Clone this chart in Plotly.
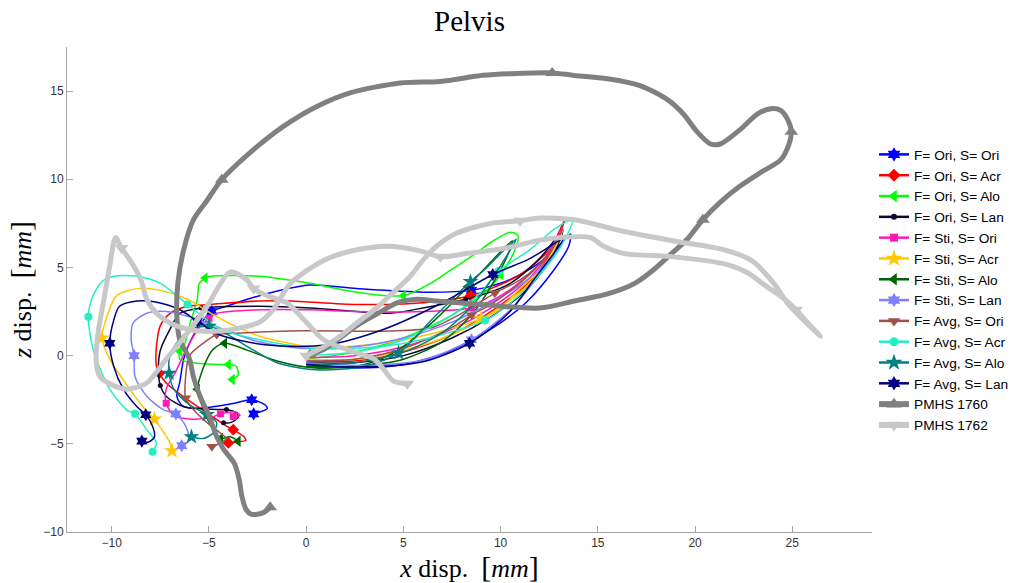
import plotly.graph_objects as go

# Axis limits (mm)
X_RANGE = [-12.3, 29.1]
Z_RANGE = [-10, 17.5]
X_TICKS = [-10, -5, 0, 5, 10, 15, 20, 25]
Z_TICKS = [-10, -5, 0, 5, 10, 15]

# ---- F= Ori, S= Ori ----
ori_ori_x = [0.0, 2.5, 5.0, 7.5, 9.5, 11.3, 12.7, 13.5, 13.6, 12.8, 11.5, 10.0, 8.5, 6.0, 2.6, 0.2,
             -2.4, -4.1, -4.85, -5.5, -6.0, -6.3, -6.5, -6.65, -6.4, -5.8, -4.8, -3.7, -2.8, -2.1, -2.0, -2.4, -2.7]
ori_ori_z = [-0.5, -0.7, -0.5, 0.3, 1.5, 3.0, 4.8, 6.2, 6.9, 6.0, 4.9, 4.1, 3.7, 3.6, 3.8, 4.0,
             3.4, 2.8, 2.5, 1.7, 0.7, -0.2, -1.5, -2.3, -2.8, -3.0, -2.9, -2.7, -2.5, -2.8, -3.0, -3.2, -3.3]
ori_ori_marks = [12, 18, 28, 32]

# ---- F= Ori, S= Acr ----
ori_acr_x = [0.0, 2.5, 5.0, 7.5, 9.5, 11.3, 12.6, 13.3, 12.5, 11.0, 9.5, 8.45, 6.0, 2.6, -0.8, -2.4,
             -4.9, -6.1, -7.0, -7.5, -7.7, -7.7, -7.55, -7.2, -6.1, -5.1, -4.1, -3.75, -3.2, -3.1, -3.6, -4.0]
ori_acr_z = [-0.3, -0.3, 0.2, 1.2, 2.5, 4.0, 5.8, 7.7, 6.0, 4.6, 3.8, 3.4, 3.0, 2.9, 3.1, 3.1,
             2.9, 2.8, 2.4, 1.7, 0.5, -0.6, -1.0, -1.55, -2.5, -3.25, -4.0, -4.2, -4.6, -4.8, -4.9, -4.95]
ori_acr_marks = [11, 22, 27, 31]

# ---- F= Ori, S= Alo ----
ori_alo_x = [0.0, 2.5, 5.0, 7.5, 9.2, 10.0, 10.7, 10.9, 10.5, 9.6, 8.6, 7.5, 6.4, 5.0, 2.6, 0.2,
             -2.4, -4.9, -5.2, -5.5, -5.6, -6.0, -6.3, -6.5, -6.5, -5.8, -4.4, -4.0, -3.6, -3.5, -3.8]
ori_alo_z = [-0.2, 0.2, 1.0, 2.3, 3.6, 4.6, 5.9, 6.8, 7.0, 6.5, 5.7, 4.9, 4.1, 3.4, 3.6, 4.1,
             4.5, 4.5, 4.4, 4.1, 3.2, 1.7, 0.5, 0.25, -0.2, -0.4, -0.5, -0.5, -0.6, -1.1, -1.35]
ori_alo_marks = [5, 13, 18, 23, 27, 30]

# ---- F= Ori, S= Lan ----
ori_lan_x = [0.0, 2.5, 5.0, 7.5, 9.5, 11.3, 12.6, 13.2, 12.0, 10.5, 9.2, 8.2, 6.0, 4.3, 2.6, 0.2,
             -2.4, -5.4, -6.5, -7.0, -7.5, -7.6, -7.5, -7.2, -6.3, -5.5, -4.6, -4.1, -3.6, -3.5, -3.9, -4.25]
ori_lan_z = [-0.4, -0.4, 0.0, 1.0, 2.2, 3.7, 5.5, 7.1, 5.5, 4.1, 3.5, 3.2, 2.7, 2.4, 2.5, 2.7,
             2.8, 2.7, 2.4, 1.5, 0.3, -0.8, -1.7, -2.3, -2.9, -3.0, -3.05, -3.06, -3.25, -3.5, -3.8, -3.8]
ori_lan_marks = [11, 17, 22, 27, 31]

# ---- F= Sti, S= Ori ----
sti_ori_x = [0.0, 2.5, 5.0, 7.5, 9.5, 11.3, 12.6, 13.2, 12.3, 10.8, 9.5, 8.5, 6.0, 2.6, 0.2, -2.4,
             -4.6, -5.0, -5.45, -6.1, -6.75, -7.2, -7.2, -6.8, -5.8, -4.9, -4.4, -3.6, -3.4, -3.75]
sti_ori_z = [-0.1, 0.0, 0.5, 1.5, 2.7, 4.2, 5.9, 7.3, 5.6, 4.0, 3.1, 2.7, 2.5, 2.5, 2.6, 2.6,
             2.4, 2.1, 1.65, 0.5, -1.0, -1.9, -2.7, -3.4, -3.6, -3.5, -3.3, -3.2, -3.4, -3.45]
sti_ori_marks = [11, 17, 22, 26, 29]

# ---- F= Sti, S= Acr ----
sti_acr_x = [0.0, 2.5, 5.0, 7.5, 9.5, 11.3, 12.6, 13.2, 12.3, 11.0, 9.9, 9.0, 7.0, 4.5, 2.0, 0.2,
             -2.4, -3.7, -4.9, -6.1, -7.5, -8.7, -9.75, -10.25, -10.5, -10.1, -9.2, -8.4, -7.8, -7.3, -7.0, -6.9]
sti_acr_z = [-0.2, -0.2, 0.3, 1.2, 2.4, 3.9, 5.7, 7.1, 5.2, 3.8, 2.6, 2.1, 1.4, 0.8, 0.5, 0.5,
             1.1, 1.7, 2.4, 3.2, 3.7, 3.8, 3.4, 2.2, 1.0, -0.2, -1.7, -2.9, -3.6, -4.4, -4.95, -5.4]
sti_acr_marks = [11, 24, 28, 31]

# ---- F= Sti, S= Alo ----
sti_alo_x = [0.0, 2.5, 5.0, 7.0, 8.5, 9.6, 10.4, 10.6, 9.4, 8.3, 6.6, 4.7, 3.0, 0.5, -1.5, -3.0,
             -4.2, -4.8, -5.1, -5.45, -5.6, -5.3, -4.9, -4.6, -4.4, -3.9, -3.5]
sti_alo_z = [-0.6, -0.6, -0.2, 0.8, 2.3, 4.1, 5.8, 6.5, 5.2, 3.9, 2.0, 0.3, -0.5, -0.7, -0.3, 0.3,
             0.7, 0.34, -0.2, -1.2, -1.9, -3.0, -4.0, -4.5, -4.7, -4.6, -4.85]
sti_alo_marks = [9, 16, 20, 24, 26]

# ---- F= Sti, S= Lan ----
sti_lan_x = [0.0, 3.0, 6.0, 8.5, 10.5, 12.0, 13.1, 13.4, 12.4, 11.0, 9.5, 7.5, 5.0, 2.5, 0.0, -2.5,
             -4.5, -6.0, -7.2, -8.2, -8.9, -9.0, -8.85, -8.8, -8.2, -7.35, -6.7, -6.3, -6.05, -6.1, -6.4]
sti_lan_z = [-0.4, -0.55, -0.25, 0.9, 2.6, 4.6, 6.3, 6.8, 5.3, 4.0, 3.0, 1.9, 1.0, 0.5, 0.4, 0.8,
             1.6, 2.2, 2.5, 2.4, 1.85, 0.9, 0.0, -1.2, -2.3, -3.06, -3.3, -3.8, -4.5, -4.9, -5.1]
sti_lan_marks = [3, 22, 26, 30]

# ---- F= Avg, S= Ori ----
avg_ori_x = [0.0, 2.5, 5.0, 7.5, 8.5, 9.5, 11.3, 12.6, 13.2, 12.4, 11.0, 9.7, 8.0, 6.5, 4.3, -0.8,
             -4.0, -4.6, -5.3, -6.0, -6.2, -6.2, -5.8, -5.1, -4.4, -4.1, -4.5, -4.85]
avg_ori_z = [-0.3, -0.2, 0.4, 1.6, 2.3, 2.9, 4.4, 6.0, 7.2, 5.6, 4.3, 3.55, 2.4, 1.6, 1.4, 1.4,
             1.25, 1.2, 0.7, 0.0, -1.2, -2.4, -3.06, -3.8, -4.4, -4.7, -5.0, -5.15]
avg_ori_marks = [4, 11, 17, 21, 27]

# ---- F= Avg, S= Acr ----
avg_acr_x = [0.0, 2.5, 5.0, 7.5, 9.0, 9.9, 11.5, 12.8, 13.7, 13.0, 11.5, 10.3, 9.2, 7.0, 4.5, 2.0, 0.2,
             -2.4, -4.4, -5.3, -6.1, -7.5, -8.7, -9.9, -10.5, -11.0, -11.2, -10.95, -10.1, -9.2, -8.8, -8.2, -7.7, -7.9]
avg_acr_z = [0.0, 0.2, 0.9, 2.3, 3.6, 4.8, 6.0, 7.2, 7.7, 6.0, 4.0, 2.8, 2.0, 1.2, 0.6, 0.4, 0.44,
             0.9, 1.5, 2.2, 2.9, 4.1, 4.5, 4.5, 4.2, 3.3, 2.2, 0.34, -1.9, -3.1, -3.3, -4.2, -4.95, -5.45]
avg_acr_marks = [5, 12, 20, 26, 30, 33]

# ---- F= Avg, S= Alo ----
avg_alo_x = [0.0, 2.5, 5.0, 7.0, 8.6, 9.7, 10.5, 10.8, 10.1, 9.2, 8.45, 6.6, 4.75, 3.0, 0.5, -1.5,
             -3.0, -4.2, -5.0, -5.9, -6.6, -7.0, -7.05, -6.8, -6.1, -5.1, -4.6, -4.8, -5.3, -5.9]
avg_alo_z = [-0.5, -0.4, 0.2, 1.3, 2.9, 4.6, 6.0, 6.6, 5.9, 4.9, 4.2, 2.2, 0.15, -0.6, -0.8, -0.4,
             0.5, 1.3, 1.66, 1.5, 0.8, 0.0, -1.0, -1.9, -2.7, -3.35, -3.8, -4.4, -4.7, -4.6]
avg_alo_marks = [10, 12, 18, 22, 25, 29]

# ---- F= Avg, S= Lan ----
avg_lan_x = [0.0, 2.6, 6.0, 8.4, 10.4, 11.7, 12.8, 13.2, 11.5, 9.6, 7.0, 4.0, 1.0, -2.0, -4.5, -5.6,
             -6.5, -7.8, -8.7, -9.6, -9.9, -10.1, -9.9, -9.4, -8.7, -8.25, -7.9, -7.8, -8.1, -8.45]
avg_lan_z = [-0.5, -0.65, -0.35, 0.7, 2.4, 4.3, 5.9, 6.6, 5.5, 4.6, 3.0, 1.5, 0.6, 0.6, 1.2, 1.95,
             2.6, 3.05, 3.1, 2.8, 2.0, 0.7, -0.6, -1.9, -2.9, -3.35, -4.0, -4.6, -4.9, -4.85]
avg_lan_marks = [3, 9, 15, 21, 25, 29]

# ---- PMHS 1760 ----
pmhs1760_x = [0.2, 0.9, 1.75, 2.6, 3.7, 4.7, 5.7, 6.7, 9.0, 12.0,
              13.8, 15.5, 16.9, 17.9, 18.7, 19.6, 20.4, 21.3, 22.3, 23.4,
              24.4, 24.8, 24.95, 24.8, 24.4, 23.9, 23.2, 22.3, 21.3, 20.8,
              20.1, 19.4, 18.6, 17.2, 15.5, 13.7, 12.65, 10.8, 9.1, 6.9,
              4.84, 2.26, 0.55, -1.17, -2.9, -4.34, -5.1, -5.8, -6.3, -6.6,
              -6.65, -6.5, -6.0, -5.8, -5.46, -5.0, -4.6, -4.25, -3.7, -3.45,
              -3.3, -3.1, -2.8, -2.2, -1.85]
pmhs1760_z = [0.05, 0.34, 1.0, 1.7, 2.4, 3.0, 3.2, 3.1, 2.9, 2.7,
              3.1, 3.5, 4.1, 4.9, 5.7, 6.6, 7.7, 8.7, 9.6, 10.4,
              11.1, 11.9, 12.7, 13.3, 13.9, 14.0, 13.7, 12.8, 12.0, 12.0,
              12.7, 13.7, 14.5, 15.3, 15.7, 15.9, 16.03, 16.0, 15.9, 15.55,
              15.46, 14.9, 14.13, 13.0, 11.5, 9.98, 8.8, 7.7, 6.0, 4.1,
              2.2, 0.9, -0.2, -1.2, -2.3, -3.4, -4.6, -5.3, -6.1, -7.0,
              -8.0, -8.7, -9.0, -8.9, -8.6]
pmhs1760_marks = [0, 16, 22, 36, 45, 64]

# ---- PMHS 1762 ----
pmhs1762_x = [0.0, 0.9, 1.75, 2.6, 3.5, 4.3, 5.35, 6.0, 6.7, 7.75,
              9.5, 11.0, 12.0, 13.8, 16.3, 18.9, 21.5, 22.9, 24.05, 24.8,
              25.6, 26.45, 25.8, 25.2, 24.5, 23.7, 22.7, 21.5, 18.9, 16.3,
              15.3, 14.6, 13.1, 12.0, 10.3, 8.3, 6.9, 6.0, 4.3, 2.6,
              0.9, -0.8, -1.7, -2.4, -3.05, -4.4, -5.5, -6.1, -7.0, -7.7,
              -8.2, -8.5, -9.05, -9.5, -9.8, -10.1, -10.4, -10.7, -10.8, -10.6,
              -9.9, -9.2, -8.2, -7.2, -6.1, -5.1, -4.4, -3.9, -3.05, -2.7,
              -2.0, -1.0, 0.0, 0.9, 2.6, 3.5, 4.0, 4.5, 5.2]
pmhs1762_z = [0.0, 0.5, 1.1, 1.85, 2.6, 3.4, 4.5, 5.4, 6.2, 6.95,
              7.5, 7.65, 7.8, 7.7, 7.05, 6.5, 6.0, 5.4, 4.1, 2.9,
              2.0, 1.1, 1.85, 2.6, 3.3, 3.9, 4.7, 5.2, 5.6, 5.8,
              6.2, 6.7, 6.7, 6.55, 6.1, 5.8, 5.6, 5.9, 6.2, 6.0,
              5.4, 4.1, 2.6, 1.9, 1.66, 1.4, 1.4, 1.5, 1.85, 2.4,
              3.2, 4.3, 5.4, 6.1, 6.7, 5.1, 3.2, 1.3, -0.4, -1.2,
              -1.7, -1.9, -1.55, -0.2, 1.3, 2.8, 4.1, 4.75, 4.3, 3.8,
              3.4, 3.0, 1.9, 0.9, 0.15, -0.2, -0.8, -1.45, -1.6]
pmhs1762_marks = [0, 11, 23, 36, 53, 69, 78]

series = [
    dict(name="F= Ori, S= Ori", x=ori_ori_x, z=ori_ori_z, marks=ori_ori_marks,
         color="#0000FF", symbol="hexagram", size=10, width=1.5),
    dict(name="F= Ori, S= Acr", x=ori_acr_x, z=ori_acr_z, marks=ori_acr_marks,
         color="#FF0000", symbol="diamond", size=9, width=1.5),
    dict(name="F= Ori, S= Alo", x=ori_alo_x, z=ori_alo_z, marks=ori_alo_marks,
         color="#00FF00", symbol="triangle-left", size=10, width=1.5),
    dict(name="F= Ori, S= Lan", x=ori_lan_x, z=ori_lan_z, marks=ori_lan_marks,
         color="#0A0A30", symbol="circle", size=5, width=1.5),
    dict(name="F= Sti, S= Ori", x=sti_ori_x, z=sti_ori_z, marks=sti_ori_marks,
         color="#FF1AB8", symbol="square", size=7, width=1.5),
    dict(name="F= Sti, S= Acr", x=sti_acr_x, z=sti_acr_z, marks=sti_acr_marks,
         color="#FFC800", symbol="star", size=12, width=1.5),
    dict(name="F= Sti, S= Alo", x=sti_alo_x, z=sti_alo_z, marks=sti_alo_marks,
         color="#006400", symbol="triangle-left", size=10, width=1.5),
    dict(name="F= Sti, S= Lan", x=sti_lan_x, z=sti_lan_z, marks=sti_lan_marks,
         color="#8080FF", symbol="hexagram", size=10, width=1.5),
    dict(name="F= Avg, S= Ori", x=avg_ori_x, z=avg_ori_z, marks=avg_ori_marks,
         color="#A0524A", symbol="triangle-down", size=10, width=1.5),
    dict(name="F= Avg, S= Acr", x=avg_acr_x, z=avg_acr_z, marks=avg_acr_marks,
         color="#22F0C3", symbol="circle", size=8, width=1.5),
    dict(name="F= Avg, S= Alo", x=avg_alo_x, z=avg_alo_z, marks=avg_alo_marks,
         color="#008080", symbol="star", size=12, width=1.5),
    dict(name="F= Avg, S= Lan", x=avg_lan_x, z=avg_lan_z, marks=avg_lan_marks,
         color="#000080", symbol="hexagram", size=10, width=1.5),
    dict(name="PMHS 1760", x=pmhs1760_x, z=pmhs1760_z, marks=pmhs1760_marks,
         color="#808080", symbol="triangle-up", size=12, width=5),
    dict(name="PMHS 1762", x=pmhs1762_x, z=pmhs1762_z, marks=pmhs1762_marks,
         color="#C8C8C8", symbol="triangle-down", size=12, width=5),
]

fig = go.Figure()

# Trajectories with markers at selected samples
for s in series:
    fig.add_trace(go.Scatter(
        x=s["x"], y=s["z"], mode="lines",
        line=dict(color=s["color"], width=s["width"], shape="spline", smoothing=0.8),
        showlegend=False, hoverinfo="skip"))
    fig.add_trace(go.Scatter(
        x=[s["x"][i] for i in s["marks"]], y=[s["z"][i] for i in s["marks"]],
        mode="markers",
        marker=dict(symbol=s["symbol"], size=s["size"], color=s["color"], line=dict(width=0)),
        showlegend=False, hoverinfo="skip"))

# Legend entries (line with marker sample)
for s in series:
    fig.add_trace(go.Scatter(
        x=[None], y=[None], mode="lines+markers", name=s["name"],
        line=dict(color=s["color"], width=s["width"] + 1),
        marker=dict(symbol=s["symbol"], size=s["size"] + 1, color=s["color"], line=dict(width=0))))

axis_font = dict(family="Liberation Sans, Arial", size=12, color="#333333")
label_font = dict(family="Liberation Serif, Times New Roman", size=26, color="#000000")
BR_L = "<span style='font-size:30px'>[</span>"
BR_R = "<span style='font-size:30px'>]</span>"

fig.update_layout(
    width=1029, height=583,
    margin=dict(l=67, r=157, t=47, b=51, autoexpand=False),
    paper_bgcolor="white", plot_bgcolor="white",
    title=dict(text="Pelvis", x=469.5 / 1029, xanchor="center",
               y=1 - 21 / 583, yanchor="middle",
               font=dict(family="Liberation Serif, Times New Roman", size=29, color="#000000")),
    legend=dict(xref="container", yref="container", x=874 / 1029, xanchor="left",
                y=1 - 139 / 583, yanchor="top", maxheight=560,
                font=dict(family="Liberation Sans, Arial", size=13.7, color="#000000"),
                bgcolor="rgba(255,255,255,0)", borderwidth=0, itemwidth=30,
                traceorder="normal"),
    xaxis=dict(range=X_RANGE, tickvals=X_TICKS, showgrid=False, zeroline=False,
               showline=True, linecolor="#A6A6A6", linewidth=1,
               ticks="inside", ticklen=6, tickcolor="#A6A6A6",
               tickfont=axis_font, automargin=False,
               title=dict(text="<i>x</i> disp.&nbsp;&nbsp;" + BR_L + "<i>mm</i>" + BR_R,
                          font=label_font, standoff=2)),
    yaxis=dict(range=Z_RANGE, tickvals=Z_TICKS, showgrid=False, zeroline=False,
               showline=True, linecolor="#A6A6A6", linewidth=1,
               ticks="inside", ticklen=6, tickcolor="#A6A6A6",
               tickfont=axis_font, automargin=False,
               title=dict(text="<i>z</i> disp.&nbsp;&nbsp;" + BR_L + "<i>mm</i>" + BR_R,
                          font=label_font, standoff=4)),
)

fig.write_html("out.html")
